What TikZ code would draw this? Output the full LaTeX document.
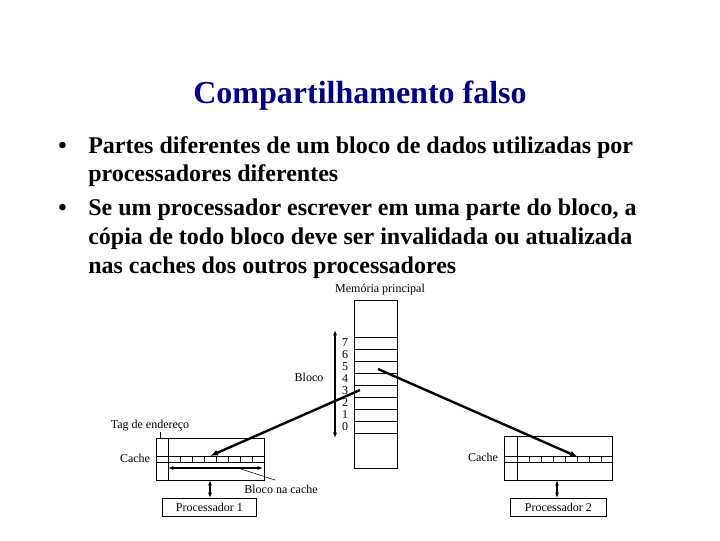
\documentclass[tikz,border=0pt]{standalone}
\usepackage{fontspec}
\setmainfont{Liberation Serif}
\usetikzlibrary{arrows.meta}
\begin{document}
\begin{tikzpicture}[x=0.75pt,y=-0.75pt,
  lbl/.style={font=\fontsize{9}{10}\selectfont,inner sep=1pt},
  box/.style={draw,line width=0.6pt},
  arr/.style={line width=1.8pt,-{Latex[length=6pt]}},
  darr/.style={line width=1.6pt,{Latex[length=4pt]}-{Latex[length=4pt]}},
  bul/.style={anchor=base west,inner sep=0,font=\fontsize{18}{22}\selectfont\bfseries}]
\useasboundingbox (0,0) rectangle (720,540);
\node[font=\fontsize{24}{28}\selectfont\bfseries,text={rgb,255:red,0;green,0;blue,128}] (title) at (360,96) {Compartilhamento falso};
\node[bul] (b1) at (58,153) {•};
\node[bul] (t1a) at (88,153) {Partes diferentes de um bloco de dados utilizadas por};
\node[bul] (t1b) at (88,181) {processadores diferentes};
\node[bul] (b2) at (58,215) {•};
\node[bul] (t2a) at (88,215) {Se um processador escrever em uma parte do bloco, a};
\node[bul] (t2b) at (88,244) {cópia de todo bloco deve ser invalidada ou atualizada};
\node[bul] (t2c) at (88,273) {nas caches dos outros processadores};
% memory
\node[box,minimum width=43pt*0.75,minimum height=168pt*0.75,inner sep=0,anchor=north west] (mem) at (354,300) {};
\foreach \y in {337,349,...,433} \draw[line width=0.6pt] (354,\y) -- (397,\y);
\foreach \n [count=\i from 0] in {7,6,5,4,3,2,1,0}
  \node[lbl] (m\n) at (345,343+12*\i) {\n};
\node[lbl] (memlbl) at (380,290) {Memória principal};
\coordinate (ba) at (335,330); \coordinate (bb) at (335,438);
\draw[darr] (ba) -- (bb);
\node[lbl] (bloco) at (309,377) {Bloco};
% cache 1
\node[box,minimum width=108pt*0.75,minimum height=42pt*0.75,inner sep=0,anchor=north west] (c1) at (156,438) {};
\draw (168,438) -- (168,480);
\draw (156,456) -- (264,456) (156,462) -- (264,462);
\foreach \x in {180,192,...,252} \draw (\x,456) -- (\x,462);
\coordinate (i1) at (168,468); \coordinate (i2) at (263,468);
\draw[darr] (i1) -- (i2);
\node[lbl] (cl1) at (135,458) {Cache};
\node[lbl] (tag) at (150,426) {Tag de endereço};
\coordinate (tg) at (160,432); \coordinate (tg2) at (160,438);
\draw (tg) -- (tg2);
\node[lbl] (bnc) at (281,489) {Bloco na cache};
\coordinate (bn1) at (238,468); \coordinate (bn2) at (275,480);
\draw (bn1) -- (bn2);
\node[box,minimum width=94pt*0.75,minimum height=18pt*0.75,inner sep=0,anchor=north west] (p1) at (162,498) {};
\node[lbl] at (p1) {Processador 1};
\coordinate (p1a) at (210,480); \coordinate (p1b) at (210,498);
\draw[darr] (p1a) -- (p1b);
% cache 2
\node[box,minimum width=108pt*0.75,minimum height=44pt*0.75,inner sep=0,anchor=north west] (c2) at (504,436) {};
\draw (517,436) -- (517,480);
\draw (504,456) -- (612,456) (504,462) -- (612,462);
\foreach \x in {529,541,...,601} \draw (\x,456) -- (\x,462);
\node[lbl] (cl2) at (483,457) {Cache};
\node[box,minimum width=96pt*0.75,minimum height=18pt*0.75,inner sep=0,anchor=north west] (p2) at (510,498) {};
\node[lbl] at (p2) {Processador 2};
\coordinate (p2a) at (557,480); \coordinate (p2b) at (557,498);
\draw[darr] (p2a) -- (p2b);
% transfer arrows
\coordinate (s1) at (360,390); \coordinate (e1) at (210,456);
\draw[arr] (s1) -- (e1);
\coordinate (s2) at (378,369); \coordinate (e2) at (578,457);
\draw[arr] (s2) -- (e2);
\end{tikzpicture}
\end{document}
